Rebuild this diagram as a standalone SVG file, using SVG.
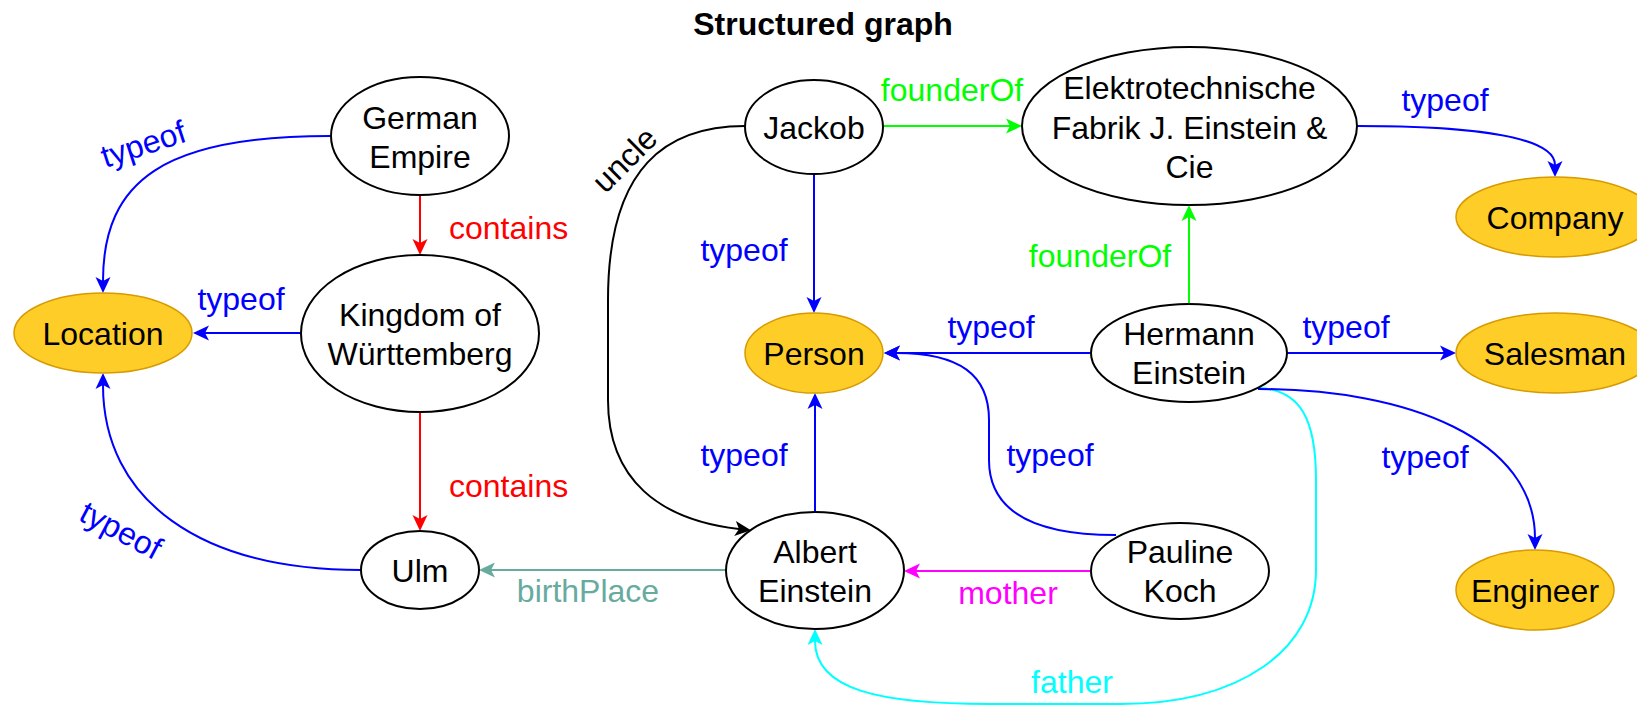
<svg xmlns="http://www.w3.org/2000/svg" width="1637" height="705" viewBox="0 0 1637 705">
  <style>
    text { font-family: "Liberation Sans", Arial, Helvetica, sans-serif; font-size: 32px; }
    .title { font-weight: bold; text-anchor: middle; fill: #000; }
    .node ellipse { fill: #ffffff; stroke: #000000; stroke-width: 2; }
    .node.type ellipse { fill: #ffcd28; stroke: #d79b00; stroke-width: 1.5; }
    .node text { text-anchor: middle; fill: #000; }
    .edge { fill: none; stroke-width: 2; }
    .blue { stroke: #0000ff; }
    .red { stroke: #ff0000; }
    .green { stroke: #00ff00; }
    .magenta { stroke: #ff00ff; }
    .cyan { stroke: #00ffff; }
    .teal { stroke: #67ab9f; }
    .black { stroke: #000000; }
    .lbl-blue { fill: #0000ff; }
    .lbl-red { fill: #ff0000; }
    .lbl-green { fill: #00ff00; }
    .lbl-magenta { fill: #ff00ff; }
    .lbl-cyan { fill: #00ffff; }
    .lbl-teal { fill: #67ab9f; }
    .lbl-black { fill: #000000; }
    .mid { text-anchor: middle; }
  </style>
  <defs>
    <marker id="arr-blue" viewBox="-5 -9 18 18" markerWidth="18" markerHeight="18" refX="0" refY="0" markerUnits="userSpaceOnUse" orient="auto" overflow="visible">
      <path d="M-4,-7.5 L12,0 L-4,7.5 L0,0 Z" fill="#0000ff"/>
    </marker>
    <marker id="arr-red" viewBox="-5 -9 18 18" markerWidth="18" markerHeight="18" refX="0" refY="0" markerUnits="userSpaceOnUse" orient="auto" overflow="visible">
      <path d="M-4,-7.5 L12,0 L-4,7.5 L0,0 Z" fill="#ff0000"/>
    </marker>
    <marker id="arr-green" viewBox="-5 -9 18 18" markerWidth="18" markerHeight="18" refX="0" refY="0" markerUnits="userSpaceOnUse" orient="auto" overflow="visible">
      <path d="M-4,-7.5 L12,0 L-4,7.5 L0,0 Z" fill="#00ff00"/>
    </marker>
    <marker id="arr-magenta" viewBox="-5 -9 18 18" markerWidth="18" markerHeight="18" refX="0" refY="0" markerUnits="userSpaceOnUse" orient="auto" overflow="visible">
      <path d="M-4,-7.5 L12,0 L-4,7.5 L0,0 Z" fill="#ff00ff"/>
    </marker>
    <marker id="arr-cyan" viewBox="-5 -9 18 18" markerWidth="18" markerHeight="18" refX="0" refY="0" markerUnits="userSpaceOnUse" orient="auto" overflow="visible">
      <path d="M-4,-7.5 L12,0 L-4,7.5 L0,0 Z" fill="#00ffff"/>
    </marker>
    <marker id="arr-teal" viewBox="-5 -9 18 18" markerWidth="18" markerHeight="18" refX="0" refY="0" markerUnits="userSpaceOnUse" orient="auto" overflow="visible">
      <path d="M-4,-7.5 L12,0 L-4,7.5 L0,0 Z" fill="#67ab9f"/>
    </marker>
    <marker id="arr-black" viewBox="-5 -9 18 18" markerWidth="18" markerHeight="18" refX="0" refY="0" markerUnits="userSpaceOnUse" orient="auto" overflow="visible">
      <path d="M-4,-7.5 L12,0 L-4,7.5 L0,0 Z" fill="#000000"/>
    </marker>
  </defs>

  <rect x="0" y="0" width="1637" height="705" fill="#ffffff"/>

  <text class="title" x="823" y="35">Structured graph</text>

  <!-- connectors -->
  <g id="connectors">
    <!-- German Empire -> Location -->
    <path class="edge blue" d="M330,136 C165,136 103,180 103,281" marker-end="url(#arr-blue)"/>
    <text class="lbl-blue mid" transform="translate(144,146) rotate(-18)" y="9">typeof</text>

    <!-- Kingdom of Württemberg -> Location -->
    <path class="edge blue" d="M301,333 L205,333" marker-end="url(#arr-blue)"/>
    <text class="lbl-blue mid" x="241" y="310">typeof</text>

    <!-- German Empire -> Kingdom of Württemberg -->
    <path class="edge red" d="M420,195 L420,243" marker-end="url(#arr-red)"/>
    <text class="lbl-red" x="449" y="239">contains</text>

    <!-- Kingdom of Württemberg -> Ulm -->
    <path class="edge red" d="M420,412 L420,519" marker-end="url(#arr-red)"/>
    <text class="lbl-red" x="449" y="497">contains</text>

    <!-- Ulm -> Location -->
    <path class="edge blue" d="M361,570 C200,570 103,500 103,385" marker-end="url(#arr-blue)"/>
    <text class="lbl-blue mid" transform="translate(120,532) rotate(28)" y="9">typeof</text>

    <!-- Albert Einstein -> Ulm -->
    <path class="edge teal" d="M726,570 L491,570" marker-end="url(#arr-teal)"/>
    <text class="lbl-teal mid" x="588" y="602">birthPlace</text>

    <!-- Jackob -> Elektrotechnische Fabrik -->
    <path class="edge green" d="M883,126 L1010,126" marker-end="url(#arr-green)"/>
    <text class="lbl-green mid" x="952" y="101">founderOf</text>

    <!-- Jackob -> Albert Einstein (uncle) -->
    <path class="edge black" d="M745,126 C668,126 608,165 608,300 L608,400 C608,480 660,520 739,529" marker-end="url(#arr-black)"/>
    <text class="lbl-black mid" transform="translate(626,161) rotate(-45)" y="9">uncle</text>

    <!-- Jackob -> Person -->
    <path class="edge blue" d="M814,174 L814,301" marker-end="url(#arr-blue)"/>
    <text class="lbl-blue mid" x="744" y="261">typeof</text>

    <!-- Hermann Einstein -> Person -->
    <path class="edge blue" d="M1091,353 L896,353" marker-end="url(#arr-blue)"/>
    <text class="lbl-blue mid" x="991" y="338">typeof</text>

    <!-- Albert Einstein -> Person -->
    <path class="edge blue" d="M815,512 L815,405" marker-end="url(#arr-blue)"/>
    <text class="lbl-blue mid" x="744" y="466">typeof</text>

    <!-- Pauline Koch -> Person -->
    <path class="edge blue" d="M1116,535 C1040,535 989,515 989,460 L989,420 C989,375 960,353 896,353" marker-end="url(#arr-blue)"/>
    <text class="lbl-blue mid" x="1050" y="466">typeof</text>

    <!-- Pauline Koch -> Albert Einstein (mother) -->
    <path class="edge magenta" d="M1091,571 L916,571" marker-end="url(#arr-magenta)"/>
    <text class="lbl-magenta mid" x="1008" y="604">mother</text>

    <!-- Hermann Einstein -> Albert Einstein (father) -->
    <path class="edge cyan" d="M1259,388 C1301,390 1316,420 1316,480 L1316,570 C1316,650 1240,704 1120,704 L990,704 C880,704 815,690 815,641" marker-end="url(#arr-cyan)"/>
    <text class="lbl-cyan mid" x="1072" y="693">father</text>

    <!-- Hermann Einstein -> Elektrotechnische Fabrik -->
    <path class="edge green" d="M1189,304 L1189,217" marker-end="url(#arr-green)"/>
    <text class="lbl-green mid" x="1100" y="267">founderOf</text>

    <!-- Elektrotechnische Fabrik -> Company -->
    <path class="edge blue" d="M1357,126 C1480,126 1555,138 1555,165" marker-end="url(#arr-blue)"/>
    <text class="lbl-blue mid" x="1445" y="111">typeof</text>

    <!-- Hermann Einstein -> Salesman -->
    <path class="edge blue" d="M1287,353 L1444,353" marker-end="url(#arr-blue)"/>
    <text class="lbl-blue mid" x="1346" y="338">typeof</text>

    <!-- Hermann Einstein -> Engineer -->
    <path class="edge blue" d="M1258,389 C1410,389 1535,440 1535,538" marker-end="url(#arr-blue)"/>
    <text class="lbl-blue mid" x="1425" y="468">typeof</text>
  </g>

  <!-- nodes -->
  <g id="german-empire" class="node">
    <ellipse cx="420" cy="136" rx="89" ry="59"/>
    <text x="420" y="129">German</text>
    <text x="420" y="168">Empire</text>
  </g>
  <g id="kingdom-wuerttemberg" class="node">
    <ellipse cx="420" cy="333.5" rx="119" ry="78.5"/>
    <text x="420" y="326">Kingdom of</text>
    <text x="420" y="365">Württemberg</text>
  </g>
  <g id="location" class="node type">
    <ellipse cx="103" cy="333" rx="89" ry="40"/>
    <text x="103" y="345">Location</text>
  </g>
  <g id="ulm" class="node">
    <ellipse cx="420" cy="570" rx="59" ry="39"/>
    <text x="420" y="582">Ulm</text>
  </g>
  <g id="jackob" class="node">
    <ellipse cx="814" cy="127" rx="69" ry="47"/>
    <text x="814" y="139">Jackob</text>
  </g>
  <g id="elektrotechnische-fabrik" class="node">
    <ellipse cx="1189.5" cy="126" rx="167.5" ry="79"/>
    <text x="1189.5" y="99">Elektrotechnische</text>
    <text x="1189.5" y="138.5">Fabrik J. Einstein &amp;</text>
    <text x="1189.5" y="178">Cie</text>
  </g>
  <g id="company" class="node type">
    <ellipse cx="1555" cy="217" rx="99" ry="40"/>
    <text x="1555" y="229">Company</text>
  </g>
  <g id="person" class="node type">
    <ellipse cx="814" cy="353" rx="69" ry="40"/>
    <text x="814" y="365">Person</text>
  </g>
  <g id="hermann-einstein" class="node">
    <ellipse cx="1189" cy="353" rx="98" ry="49"/>
    <text x="1189" y="345">Hermann</text>
    <text x="1189" y="384">Einstein</text>
  </g>
  <g id="salesman" class="node type">
    <ellipse cx="1555" cy="353" rx="99" ry="40"/>
    <text x="1555" y="365">Salesman</text>
  </g>
  <g id="albert-einstein" class="node">
    <ellipse cx="815" cy="570.5" rx="89" ry="58.5"/>
    <text x="815" y="563">Albert</text>
    <text x="815" y="602">Einstein</text>
  </g>
  <g id="pauline-koch" class="node">
    <ellipse cx="1180" cy="571" rx="89" ry="48"/>
    <text x="1180" y="563">Pauline</text>
    <text x="1180" y="602">Koch</text>
  </g>
  <g id="engineer" class="node type">
    <ellipse cx="1535" cy="590" rx="79" ry="40"/>
    <text x="1535" y="602">Engineer</text>
  </g>
</svg>
